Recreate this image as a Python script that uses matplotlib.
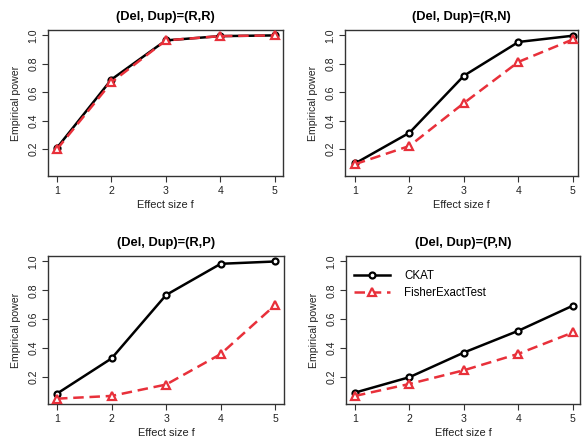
import numpy as np
import matplotlib
matplotlib.use("Agg")
import matplotlib.pyplot as plt

plt.rcParams['font.family'] = ['Liberation Sans', 'DejaVu Sans']

## Data
effect_size = [1, 2, 3, 4, 5]
titles = ['(Del, Dup)=(R,R)', '(Del, Dup)=(R,N)', '(Del, Dup)=(R,P)', '(Del, Dup)=(P,N)']
ckat_rr = [0.21, 0.69, 0.965, 0.995, 1.0]
fisher_rr = [0.20, 0.67, 0.965, 0.995, 1.0]
ckat_rn = [0.10, 0.316, 0.717, 0.954, 0.998]
fisher_rn = [0.095, 0.223, 0.525, 0.814, 0.972]
ckat_rp = [0.084, 0.328, 0.768, 0.984, 1.0]
fisher_rp = [0.049, 0.068, 0.147, 0.358, 0.699]
ckat_pn = [0.091, 0.198, 0.369, 0.52, 0.694]
fisher_pn = [0.068, 0.151, 0.246, 0.36, 0.508]
ckat_all = [ckat_rr, ckat_rn, ckat_rp, ckat_pn]
fisher_all = [fisher_rr, fisher_rn, fisher_rp, fisher_pn]

red = '#E8303A'

fig = plt.figure(figsize=(5.82, 4.44), dpi=100)
W, H = 582, 444
# axes boxes in pixels: (left, top, right, bottom)
boxes = [(48, 30, 283, 176), (345, 30, 578, 176),
         (48, 256, 284, 404), (346, 256, 580, 404)]
# x limits so ticks 1..5 sit where they are in the picture
xlims = [(0.835, 5.153), (0.817, 5.092), (0.835, 5.16), (0.835, 5.13)]

for k in range(4):
    l, t, r, b = boxes[k]
    ax = fig.add_axes([l / W, 1 - b / H, (r - l) / W, (b - t) / H])
    ax.plot(effect_size, ckat_all[k], color='black', lw=1.8, marker='o', ms=4.3,
            mfc='white', mec='black', mew=1.6, label='CKAT', zorder=3)
    ax.plot(effect_size, fisher_all[k], color=red, lw=1.8, ls=(0, (4.2, 2.3)), marker='^', ms=5.5,
            mfc='white', mec=red, mew=1.6, label='FisherExactTest', zorder=4)
    ax.set_xlim(*xlims[k])
    ax.set_ylim(0.012, 1.038)
    ax.set_xticks(effect_size)
    ax.set_yticks([0.2, 0.4, 0.6, 0.8, 1.0])
    ax.set_yticklabels(['0.2', '0.4', '0.6', '0.8', '1.0'], rotation=90, va='center')
    ax.tick_params(labelsize=7.6, length=4, width=0.8, color='#333333', labelcolor='#222222', pad=3)
    for s in ax.spines.values():
        s.set_linewidth(1.0)
        s.set_color('#333333')
    ax.set_title(titles[k], fontsize=9.3, fontweight='bold', pad=7)
    ax.set_xlabel('Effect size f', fontsize=7.9, labelpad=3, color='#222222')
    ax.set_ylabel('Empirical power', fontsize=7.6, labelpad=5, color='#222222')
    if k == 3:
        ax.legend(loc='upper left', frameon=False, fontsize=8.3, handlelength=3.1,
                  borderaxespad=0.3, handletextpad=1.25, labelspacing=0.45,
                  bbox_to_anchor=(0.0, 0.96))

fig.savefig('out.png', dpi=100)
